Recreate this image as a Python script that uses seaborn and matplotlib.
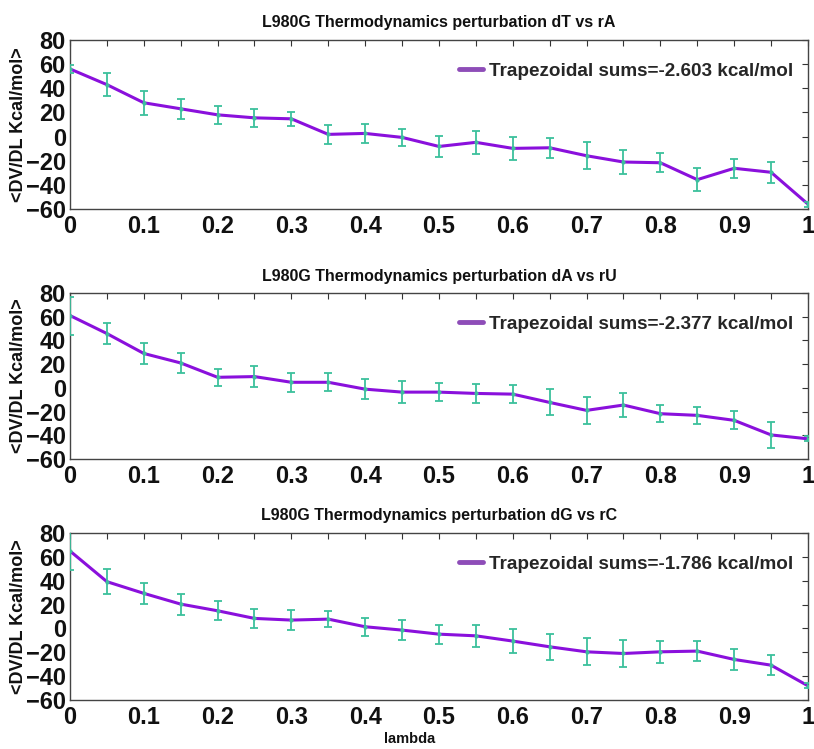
import numpy as np
import pandas as pd
import matplotlib
matplotlib.use("Agg")
import matplotlib.pyplot as plt
import seaborn as sns

# lambda windows
lam = [0.0, 0.05, 0.1, 0.15, 0.2, 0.25, 0.3, 0.35, 0.4, 0.45, 0.5,
       0.55, 0.6, 0.65, 0.7, 0.75, 0.8, 0.85, 0.9, 0.95, 1.0]

# <dV/dL> per window
dT_vals = [56, 43, 28, 23, 18, 15.5, 14.7, 1.8, 2.6, -0.7, -8.2,
           -4.8, -9.8, -9.3, -15.9, -21.1, -21.7, -35.7, -26.3, -29.6, -56]
dT_err = [3, 9.6, 10, 8.4, 7.4, 7.4, 6, 8, 7.7, 7.3, 8.5,
          9.6, 9.6, 8.3, 11, 10.3, 8, 9.6, 7.9, 8.7, 2]

dA_vals = [61, 45.8, 29, 21, 8.9, 9.5, 4.7, 4.7, -1.1, -3.6, -3.6,
           -4.7, -5.3, -12.3, -19, -14.5, -21.8, -23.2, -27.4, -39.7, -43]
dA_err = [16, 9, 9, 8.7, 7.4, 8.7, 8.2, 7.5, 8.7, 9, 7.7,
          8, 7.3, 11, 11.3, 10.5, 7.1, 7.1, 7.7, 10.8, 2]

dG_vals = [64.9, 39.2, 29.4, 20.4, 14.8, 8.4, 7, 7.8, 1.4, -1.4, -4.8,
           -6.2, -10.6, -15.4, -19.6, -21, -19.6, -19, -26, -30.8, -48.1]
dG_err = [16, 10.5, 9, 8.8, 8.1, 8.1, 8.4, 7, 7.4, 8.1, 8,
          9, 10.2, 10.8, 11.3, 11.7, 9, 8.4, 9, 8.4, 2]

titles = ["L980G Thermodynamics perturbation dT vs rA",
          "L980G Thermodynamics perturbation dA vs rU",
          "L980G Thermodynamics perturbation dG vs rC"]
sums = ["-2.603", "-2.377", "-1.786"]

x_ticks = [0, 0.1, 0.2, 0.3, 0.4, 0.5, 0.6, 0.7, 0.8, 0.9, 1]
x_ticklabels = ["0", "0.1", "0.2", "0.3", "0.4", "0.5", "0.6", "0.7", "0.8", "0.9", "1"]
y_ticks = [80, 60, 40, 20, 0, -20, -40, -60]

sns.set_theme(style="white")
plt.rcParams["font.family"] = ["Liberation Sans", "DejaVu Sans"]

line_color = "#8A10DC"
err_color = "#3CC09C"
legend_color = "#8E4DB8"
narrow = ["Liberation Sans Narrow", "Liberation Sans", "DejaVu Sans"]

fig = plt.figure(figsize=(8.14, 7.49), dpi=100, facecolor="white")
# axes boxes measured in pixels from the reference
boxes = [(0.086, 0.721, 0.9066, 0.2256),
         (0.086, 0.3872, 0.9066, 0.2216),
         (0.086, 0.0654, 0.9066, 0.2230)]

series = [(dT_vals, dT_err), (dA_vals, dA_err), (dG_vals, dG_err)]

for i, (box, (vals, errs)) in enumerate(zip(boxes, series)):
    ax = fig.add_axes(box)
    df = pd.DataFrame({"lambda": lam, "dvdl": vals, "err": errs})

    sns.lineplot(data=df, x="lambda", y="dvdl", ax=ax, color=line_color,
                 linewidth=2.2, zorder=2, legend=False)
    ax.errorbar(df["lambda"], df["dvdl"], yerr=df["err"], fmt="none",
                ecolor=err_color, elinewidth=1.3, capsize=3, capthick=1.3,
                zorder=3)
    ax.scatter(df["lambda"], df["dvdl"], s=4, color=err_color, zorder=4)

    ax.set_xlim(0, 1)
    ax.set_ylim(-60, 80)
    ax.set_xticks(x_ticks)
    ax.set_xticklabels(x_ticklabels)
    ax.set_xticks(lam, minor=True)
    ax.set_yticks(y_ticks)
    ax.tick_params(axis="both", which="both", direction="in", top=True, right=True,
                   length=4, width=0.8, color="#333333")
    ax.tick_params(axis="both", which="major", labelsize=17, pad=3, labelcolor="#111111")
    ax.tick_params(axis="x", which="major", pad=4)
    for lab in ax.get_xticklabels() + ax.get_yticklabels():
        lab.set_fontweight("bold")
    for sp in ax.spines.values():
        sp.set_visible(True)
        sp.set_color("#444444")
        sp.set_linewidth(1.0)

    ax.set_title(titles[i], fontsize=11.5, fontweight="bold", family=narrow,
                 pad=9, color="#111111")
    ax.set_ylabel("<DV/DL Kcal/mol>", fontsize=13, fontweight="bold",
                  labelpad=2, color="#111111")
    ax.yaxis.set_label_coords(-0.058, 0.5)
    if i == 2:
        ax.set_xlabel("lambda", fontsize=10.5, fontweight="bold", family=narrow,
                      color="#111111")
        ax.xaxis.set_label_coords(0.46, -0.19)
    else:
        ax.set_xlabel("")

    handle = plt.Line2D([], [], color=legend_color, linewidth=3.5)
    ax.legend([handle], [f"Trapezoidal sums={sums[i]} kcal/mol"],
              loc="upper right", bbox_to_anchor=(0.98, 0.865), frameon=False,
              handlelength=1.3, handletextpad=0.3, borderaxespad=0.0, borderpad=0.0,
              prop={"weight": "bold", "size": 13.6})

fig.savefig("out.png", dpi=100, facecolor="white")
